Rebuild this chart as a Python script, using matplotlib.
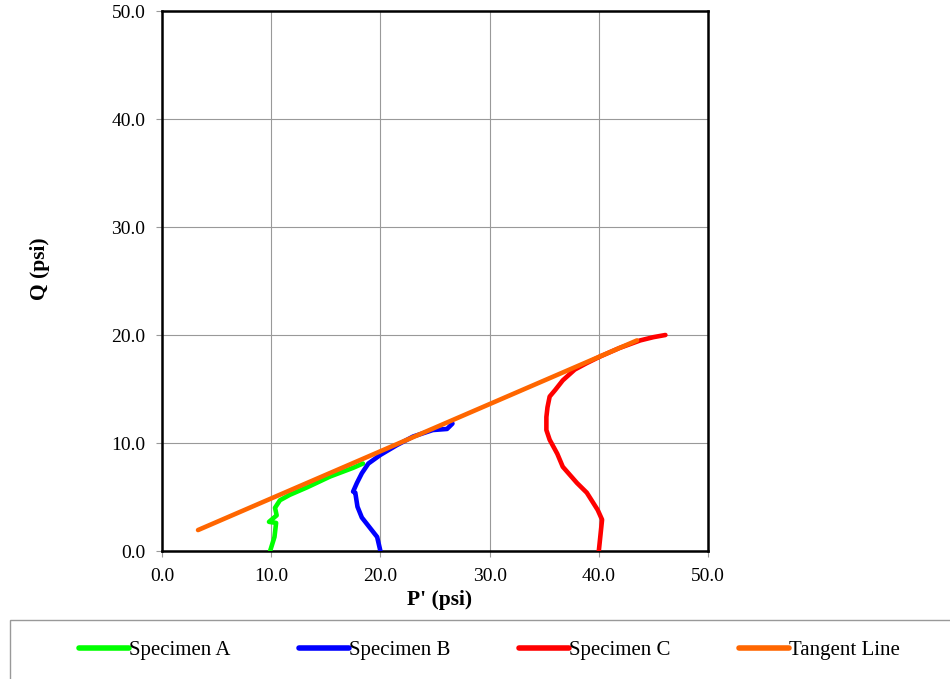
import matplotlib
matplotlib.use("Agg")
import matplotlib.pyplot as plt
from matplotlib.lines import Line2D

plt.rcParams['font.family'] = ['Liberation Serif', 'DejaVu Serif']

# Specimen A
a_p = [9.9, 10.3, 10.45, 9.8, 10.5, 10.35, 10.8, 11.7, 13.3, 15.4, 17.5, 18.4]
a_q = [0.0, 1.3, 2.6, 2.7, 3.3, 4.0, 4.7, 5.2, 5.9, 6.9, 7.7, 8.1]

# Specimen B
b_p = [20.0, 19.7, 19.0, 18.3, 17.9, 17.7, 17.5, 17.85, 18.3, 18.9, 20.0, 21.5, 23.0, 24.8, 26.1, 26.6]
b_q = [0.0, 1.3, 2.2, 3.1, 4.1, 5.4, 5.5, 6.3, 7.2, 8.1, 8.9, 9.8, 10.6, 11.2, 11.3, 11.8]

# Specimen C
c_p = [40.0, 40.3, 39.9, 38.9, 38.0, 36.7, 36.2, 35.5, 35.2, 35.2, 35.3, 35.5, 36.0,
       36.7, 37.8, 38.9, 40.1, 41.9, 43.8, 45.0, 46.1]
c_q = [0.0, 2.9, 3.8, 5.4, 6.3, 7.8, 9.0, 10.3, 11.2, 12.4, 13.3, 14.3, 14.9,
       15.8, 16.8, 17.4, 18.0, 18.8, 19.5, 19.8, 20.0]

# Tangent line
t_p = [3.3, 43.5]
t_q = [1.94, 19.5]

ticks = [0, 10, 20, 30, 40, 50]
tick_labels = ['0.0', '10.0', '20.0', '30.0', '40.0', '50.0']

W, H = 950, 679
fig = plt.figure(figsize=(9.5, 6.79), dpi=100)
ax = fig.add_axes([162/W, 1 - 551/H, (708-162)/W, (551-11)/H])

lw = 3.3
ax.plot(a_p, a_q, color='#00ff00', lw=lw, solid_capstyle='round', solid_joinstyle='round', zorder=3)
ax.plot(b_p, b_q, color='#0000ff', lw=lw, solid_capstyle='round', solid_joinstyle='round', zorder=3)
ax.plot(c_p, c_q, color='#ff0000', lw=lw, solid_capstyle='round', solid_joinstyle='round', zorder=3)
ax.plot(t_p, t_q, color='#ff6600', lw=lw, solid_capstyle='round', zorder=4)

ax.set_xlim(0, 50)
ax.set_ylim(0, 50)
ax.set_xticks(ticks)
ax.set_xticklabels(tick_labels)
ax.set_yticks(ticks)
ax.set_yticklabels(tick_labels)
ax.grid(True, color='#999999', lw=0.8)
ax.set_axisbelow(True)
ax.tick_params(direction='out', length=4, color='#999999', labelsize=14)
ax.tick_params(axis='x', pad=8)
ax.tick_params(axis='y', pad=8)
for s in ax.spines.values():
    s.set_linewidth(1.8)
    s.set_color('black')

fig.text(440/W, 1 - 600/H, "P' (psi)", fontsize=15.5, fontweight='bold',
         ha='center', va='center')
fig.text(40/W, 1 - 269/H, "Q (psi)", fontsize=15.5, fontweight='bold',
         ha='center', va='center', rotation=90)

# legend box
box = plt.Rectangle((10/W, -0.01), 1.0, (H-620)/H + 0.01, transform=fig.transFigure,
                    fill=False, edgecolor='#999999', lw=1.0)
fig.add_artist(box)
handles = [Line2D([0], [0], color=c, lw=4, solid_capstyle='round')
           for c in ['#00ff00', '#0000ff', '#ff0000', '#ff6600']]
labels = ['Specimen A', 'Specimen B', 'Specimen C', 'Tangent Line']
fig.legend(handles, labels, loc='center', bbox_to_anchor=(0.515, 1 - 650/H), ncol=4,
           frameon=False, fontsize=15, handlelength=2.4, handletextpad=0.0,
           columnspacing=3.3)

fig.savefig('out.png', dpi=100)
